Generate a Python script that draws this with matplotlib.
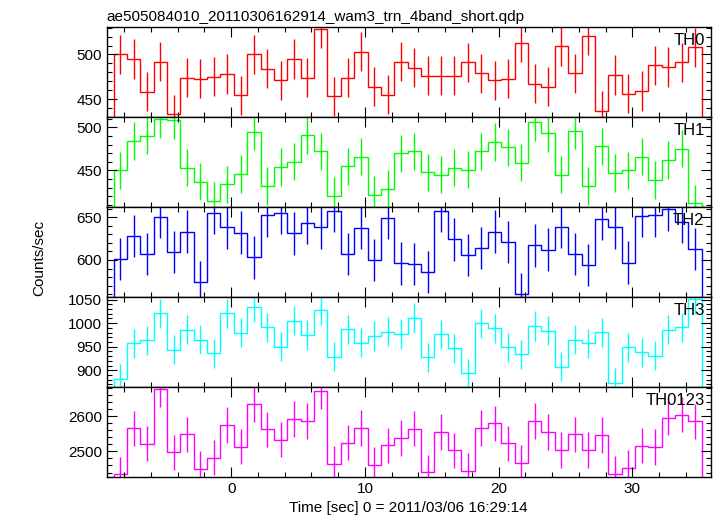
import numpy as np
import matplotlib
matplotlib.use("Agg")
import matplotlib.pyplot as plt
from matplotlib.ticker import MultipleLocator

plt.rcParams['font.family'] = ['Liberation Sans', 'DejaVu Sans']

title = "ae505084010_20110306162914_wam3_trn_4band_short.qdp"
xlabel = "Time [sec] 0 = 2011/03/06 16:29:14"
ylabel = "Counts/sec"

# 1 s bins starting at t0
t0 = -8.8
bin_width = 1.0

names = ["TH0", "TH1", "TH2", "TH3", "TH0123"]
colors = ["#ff0000", "#00ff00", "#0000ff", "#00ffff", "#ff00ff"]

th0 = [500, 495, 458, 492, 433, 474, 473, 475, 478, 454, 500, 484, 471, 495,
       474, 529, 453, 474, 503, 464, 455, 492, 485, 476, 476, 476, 491, 479,
       471, 473, 513, 467, 464, 509, 479, 521, 437, 477, 456, 459, 488, 486,
       491, 508]
th1 = [450, 484, 490, 509, 508, 453, 437, 415, 434, 446, 495, 432, 454, 460,
       491, 472, 421, 455, 466, 422, 429, 470, 472, 448, 445, 453, 451, 472,
       483, 477, 459, 506, 493, 445, 496, 432, 478, 447, 450, 466, 439, 462,
       475, 412]
th2 = [601, 628, 607, 650, 609, 633, 574, 655, 638, 632, 603, 652, 655, 631,
       643, 638, 657, 607, 637, 600, 649, 596, 595, 586, 657, 624, 606, 614,
       633, 621, 560, 617, 612, 639, 607, 594, 648, 638, 597, 651, 652, 659,
       644, 613]
th3 = [882, 957, 964, 1021, 944, 986, 965, 936, 1021, 980, 1034, 991, 950, 1005,
       975, 1028, 929, 987, 959, 973, 982, 977, 1011, 928, 976, 947, 894, 1000,
       989, 949, 934, 994, 984, 908, 965, 957, 981, 873, 949, 938, 931, 986,
       991, 1051]
th0123 = [2435, 2565, 2522, 2676, 2497, 2548, 2450, 2482, 2575, 2513, 2634, 2562,
          2533, 2592, 2586, 2670, 2464, 2525, 2566, 2461, 2517, 2538, 2564, 2441,
          2555, 2503, 2445, 2566, 2579, 2523, 2467, 2586, 2555, 2504, 2548, 2504,
          2546, 2437, 2454, 2516, 2512, 2595, 2604, 2585]
series = [th0, th1, th2, th3, th0123]

# typical 1-sigma error bar per panel
errors = [22, 21.5, 24.8, 31, 50]

ylims = [(430, 531), (408, 512), (557, 662), (865, 1056), (2428, 2683)]
major = [50, 50, 50, 50, 100]
minor = [10, 10, 10, 10, 20]


def main():
    fig, axes = plt.subplots(5, 1, sharex=True, figsize=(7.17, 5.16), dpi=100)
    fig.subplots_adjust(left=0.149, right=0.991, top=0.948, bottom=0.076,
                        hspace=0)

    for ax, name, col, vals, err, yl, mj, mn in zip(
            axes, names, colors, series, errors, ylims, major, minor):
        vals = np.array(vals, dtype=float)
        edges = t0 + bin_width * np.arange(len(vals) + 1)
        centers = 0.5 * (edges[:-1] + edges[1:])
        ax.stairs(vals, edges, color=col, lw=1.0)
        ax.errorbar(centers, vals, yerr=err, fmt='none', ecolor=col,
                    elinewidth=1.0, capsize=0)
        ax.set_ylim(*yl)
        ax.yaxis.set_major_locator(MultipleLocator(mj))
        ax.yaxis.set_minor_locator(MultipleLocator(mn))
        ax.xaxis.set_major_locator(MultipleLocator(10))
        ax.xaxis.set_minor_locator(MultipleLocator(2))
        ax.tick_params(which='both', direction='in', top=True, right=True,
                       labelsize=11, width=0.8)
        ax.tick_params(which='major', length=7)
        ax.tick_params(which='minor', length=3.5)
        for s in ax.spines.values():
            s.set_linewidth(1.0)
        ax.text(0.99, 0.93, name, transform=ax.transAxes, ha='right',
                va='top', fontsize=12)

    axes[0].set_xlim(-9.3, 35.85)
    axes[-1].set_xlabel(xlabel, fontsize=11, labelpad=4)
    fig.text(0.055, 0.5, ylabel, rotation=90, ha='center', va='center',
             fontsize=11)
    axes[0].set_title(title, loc='left', fontsize=11, pad=4)

    fig.savefig("out.png")


if __name__ == '__main__':
    main()
